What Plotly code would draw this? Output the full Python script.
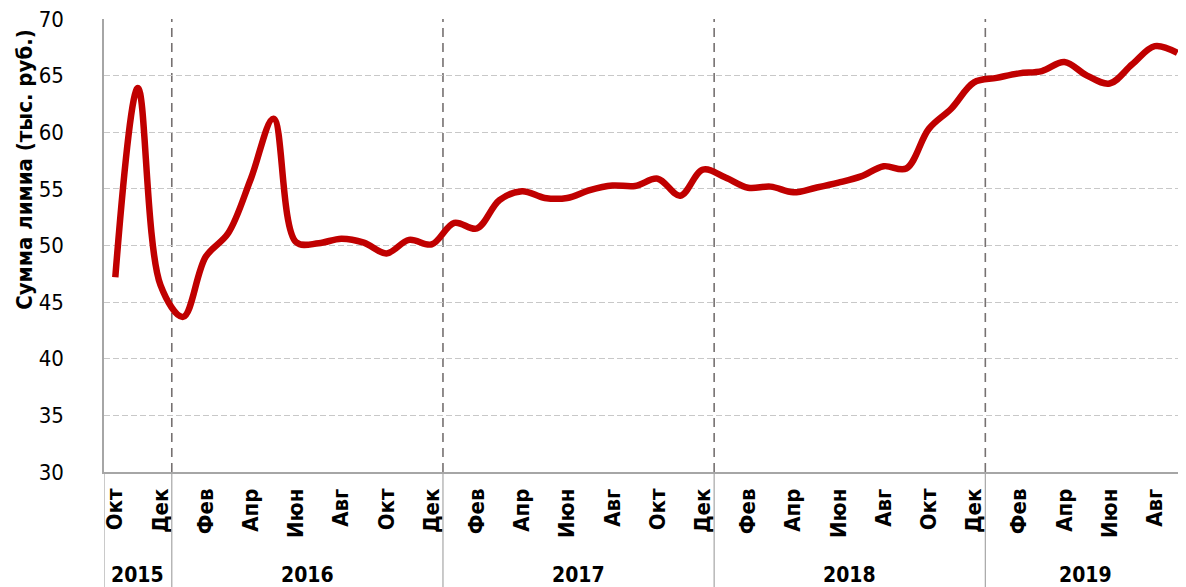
import plotly.graph_objects as go

months = ["Окт", "Ноя", "Дек",
          "Янв", "Фев", "Мар", "Апр", "Май", "Июн", "Июл", "Авг", "Сен", "Окт", "Ноя", "Дек",
          "Янв", "Фев", "Мар", "Апр", "Май", "Июн", "Июл", "Авг", "Сен", "Окт", "Ноя", "Дек",
          "Янв", "Фев", "Мар", "Апр", "Май", "Июн", "Июл", "Авг", "Сен", "Окт", "Ноя", "Дек",
          "Янв", "Фев", "Мар", "Апр", "Май", "Июн", "Июл", "Авг", "Сен"]
years = ["2015", "2016", "2017", "2018", "2019"]
year_counts = [3, 12, 12, 12, 9]
values = [47.2, 63.9, 46.5,
          43.7, 49.0, 51.1, 55.9, 61.2, 50.3, 50.2, 50.6, 50.25, 49.3, 50.5, 50.1,
          52.0, 51.5, 54.0, 54.8, 54.2, 54.2, 54.9, 55.3, 55.25, 55.9, 54.4, 56.7,
          56.0, 55.1, 55.2, 54.7, 55.1, 55.55, 56.1, 57.0, 56.8, 60.3, 62.1, 64.4,
          64.8, 65.2, 65.4, 66.2, 65.0, 64.3, 66.0, 67.6, 67.0]
y_title = "Сумма лимиа (тыс. руб.)"

FONT = "DejaVu Sans Condensed, Liberation Sans, sans-serif"
idx = list(range(len(values)))

fig = go.Figure()
fig.add_trace(go.Scatter(
    x=idx, y=values, mode="lines",
    line=dict(color="#c00000", width=6.5, shape="spline", smoothing=1.0),
    hoverinfo="skip", showlegend=False))

# year boundaries
bounds = [-0.5]
for c in year_counts:
    bounds.append(bounds[-1] + c)
x_max = len(values) - 0.5 - 0.12

shapes = []
for b in bounds[1:-1]:
    shapes.append(dict(type="line", xref="x", yref="paper", x0=b, x1=b, y0=0, y1=1,
                       line=dict(color="#767171", width=1.6, dash="9px,6px"), layer="below"))
for b in bounds[:-1]:
    shapes.append(dict(type="line", xref="x", yref="paper", x0=b, x1=b, y0=0, y1=-0.27,
                       line=dict(color="#a6a6a6", width=1.2)))

annotations = []
for i, yr in enumerate(years):
    right = min(bounds[i + 1], x_max)
    annotations.append(dict(x=(bounds[i] + right) / 2, y=-0.227, xref="x", yref="paper",
                            text="<b>%s</b>" % yr, showarrow=False, yanchor="middle",
                            font=dict(family=FONT, size=21, color="#000000")))
annotations.append(dict(x=-0.073, y=0.667, xref="paper", yref="paper", text="<b>%s</b>" % y_title,
                        textangle=-90, showarrow=False, xanchor="center", yanchor="middle",
                        font=dict(family=FONT, size=22, color="#000000")))

tickvals = idx[::2]
ticktext = ["<b>%s</b>" % months[i] for i in tickvals]

fig.update_layout(
    width=1178, height=579,
    margin=dict(l=96, r=0, t=11, b=115, autoexpand=False),
    paper_bgcolor="white", plot_bgcolor="white",
    shapes=shapes, annotations=annotations,
    xaxis=dict(range=[-0.5, x_max], tickvals=tickvals, ticktext=ticktext, tickangle=-90,
               showgrid=False, zeroline=False, showline=True, linecolor="#a6a6a6", linewidth=1.5,
               ticks="", ticklabelstandoff=6, automargin=False,
               tickfont=dict(family=FONT, size=22, color="#000000")),
    yaxis=dict(range=[30, 70], dtick=5, tick0=30, showgrid=True, gridcolor="#c8c8c8",
               griddash="6px,3px", gridwidth=1.3, zeroline=False,
               showline=True, linecolor="#a6a6a6", linewidth=1.5, ticks="",
               ticklabelstandoff=34, automargin=False, ticklabeloverflow="allow",
               tickfont=dict(family=FONT, size=22, color="#000000")),
)

fig.write_html("out.html")
